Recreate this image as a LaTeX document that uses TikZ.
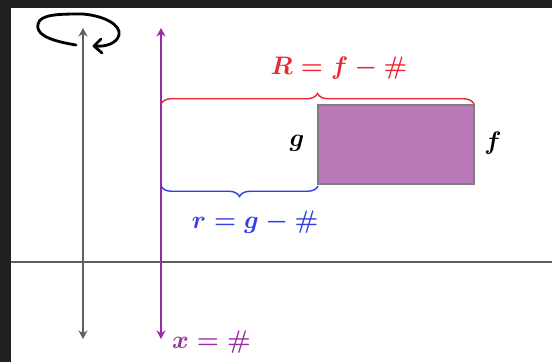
\documentclass[tikz,border=0pt]{standalone}
\usetikzlibrary{arrows.meta,decorations.pathreplacing}
\definecolor{frame}{RGB}{32,32,34}
\definecolor{axis}{RGB}{95,95,95}
\definecolor{plum}{RGB}{150,45,160}
\definecolor{mauve}{RGB}{186,122,186}
\definecolor{redline}{RGB}{235,40,50}
\definecolor{blueline}{RGB}{50,60,235}
\tikzset{
  >={Stealth[length=1.7mm,width=1.8mm]},
  axisline/.style={draw=#1,line width=1.1pt,<->},
  axisline/.default=axis,
  bracebar/.style={draw=#1,thick,decorate,decoration={brace,amplitude=6pt}},
  lbl/.style={font=\Large\boldmath,text=#1},
  lbl/.default=black,
}
\begin{document}
\begin{tikzpicture}[x=0.02cm,y=-0.02cm]
  % screenshot frame
  \fill[frame] (0,0) rectangle (552,362);
  \fill[white] (11,8) rectangle (552,362);
  \useasboundingbox (0,0) rectangle (552,362);
  % key points
  \coordinate (top) at (83,28);
  \coordinate (bot) at (83,339);
  \coordinate (ptop) at (161,28);
  \coordinate (pbot) at (161,339);
  \coordinate (hl) at (11,262);
  \coordinate (hr) at (552,262);
  \coordinate (rl) at (161,104);
  \coordinate (rr) at (474,104);
  \coordinate (bl) at (161,186);
  \coordinate (bm) at (318,186);
  % axes
  \draw[axis,line width=1.3pt] (hl) -- (hr);
  \draw[axisline] (bot) -- (top);
  \draw[axisline=plum] (pbot) -- (ptop);
  % shaded band
  \filldraw[fill=mauve,draw=axis!80,thick] (318,105) rectangle (474,184);
  % braces
  \draw[bracebar=redline] (rl) -- (rr);
  \draw[bracebar=blueline] (bm) -- (bl);
  % labels
  \node[lbl=redline] (Rlab) at (339,68) {$R=f-\#$};
  \node[lbl] (glab) at (297,143) {$g$};
  \node[lbl] (flab) at (493,143) {$f$};
  \node[lbl=blueline] (rlab) at (255,222) {$r=g-\#$};
  \node[lbl=plum,anchor=west] (xlab) at (166,342) {$x=\#$};
  % hand-drawn loop
  \draw[line width=1.6pt,line cap=round,line join=round]
    (76,45) .. controls (45,40) and (36,33) .. (38,24)
            .. controls (40,14) and (60,14) .. (83,14)
            .. controls (105,16) and (121,25) .. (119,35)
            .. controls (117,43) and (106,47) .. (96,46);
  \draw[line width=1.6pt,line cap=round,line join=round]
    (101,39) -- (94,46) -- (102,53);
\end{tikzpicture}
\end{document}
